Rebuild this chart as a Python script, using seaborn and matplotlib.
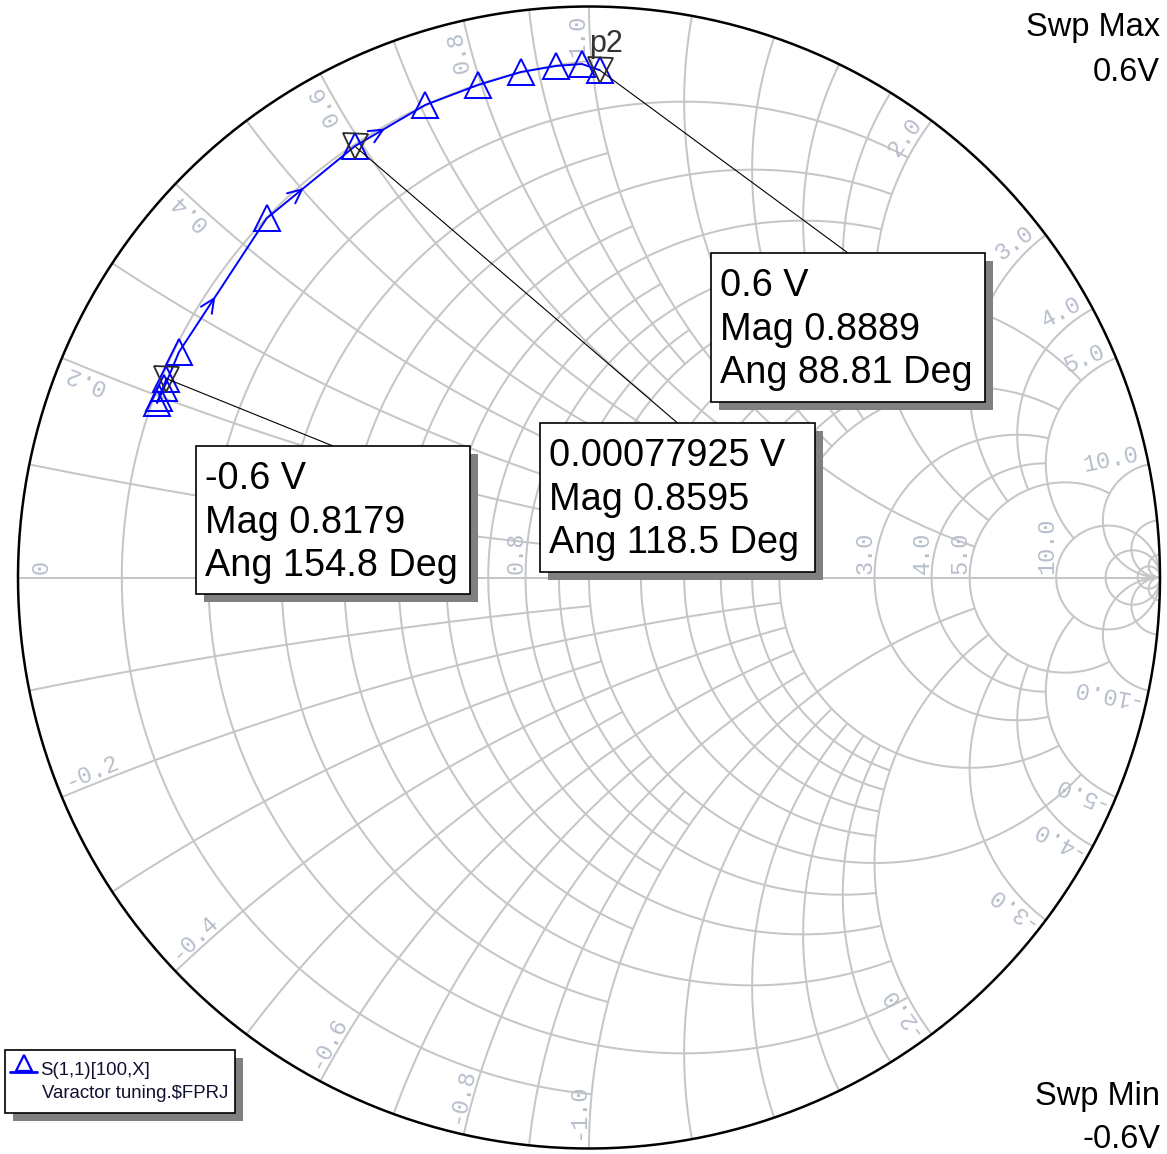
import numpy as np
import pandas as pd
import matplotlib
matplotlib.use("Agg")
import matplotlib.pyplot as plt
from matplotlib.patches import Rectangle
import seaborn as sns

# ---------------------------------------------------------------- data
# S(1,1) of the varactor versus bias voltage (magnitude / angle in degrees)
sweep_v = [-0.6, -0.5, -0.4, -0.3, -0.2, -0.1, 0.0, 0.1, 0.2, 0.3, 0.4, 0.5, 0.6]
s11_mag = [0.8179, 0.8161, 0.8160, 0.8150, 0.8195, 0.8452, 0.8595,
           0.8759, 0.8842, 0.8933, 0.8977, 0.8994, 0.8889]
s11_ang = [154.8, 157.3, 158.0, 156.0, 151.2, 131.9, 118.5,
           109.1, 102.7, 97.7, 93.7, 90.8, 88.81]

# marker read-outs
marker_v = [-0.6, 0.00077925, 0.6]
marker_mag = [0.8179, 0.8595, 0.8889]
marker_ang = [154.8, 118.5, 88.81]
marker_name = "p2"

legend_lines = ["S(1,1)[100,X]", "Varactor tuning.$FPRJ"]
sweep_max = "0.6V"
sweep_min = "-0.6V"

# Smith grid: (value, extent) -> resistance circles limited in |x|,
# reactance arcs limited in r
INF = np.inf
grid_r = [(0.1, 1), (0.2, 2), (0.3, 1), (0.4, 2), (0.5, 1), (0.6, 2), (0.7, 1),
          (0.8, 2), (0.9, 1), (1.0, 5), (1.2, 2), (1.4, 2), (1.6, 2), (1.8, 2),
          (2.0, 5), (3.0, 5), (4.0, 5), (5.0, 10), (10.0, INF), (20.0, INF),
          (50.0, INF)]
grid_x = [(0.1, 1), (0.2, 2), (0.3, 1), (0.4, 2), (0.5, 1), (0.6, 2), (0.7, 1),
          (0.8, 2), (0.9, 1), (1.0, 5), (1.2, 2), (1.4, 2), (1.6, 2), (1.8, 2),
          (2.0, 5), (3.0, 5), (4.0, 5), (5.0, 10), (10.0, INF), (20.0, INF),
          (50.0, INF)]
# resistance labels left uncovered by the read-out boxes
label_r = [0, 0.8, 3.0, 4.0, 5.0, 10.0]
label_x = [0.2, 0.4, 0.6, 0.8, 1.0, 2.0, 3.0, 4.0, 5.0, 10.0]

# ---------------------------------------------------------------- layout
W, H = 1167, 1154
CX, CY, RAD = 589.0, 577.5, 571.0


def P(px, py):
    """pixel position -> reflection-plane coordinates"""
    return (px - CX) / RAD, (CY - py) / RAD


sns.set_theme(style="white")
plt.rcParams["font.family"] = ["Liberation Sans", "DejaVu Sans"]

fig = plt.figure(figsize=(W / 100, H / 100), dpi=100)
ax = fig.add_axes([0, 0, 1, 1])
ax.set_xlim(P(0, 0)[0], P(W, 0)[0])
ax.set_ylim(P(0, H)[1], P(0, 0)[1])
ax.axis("off")

GRID_C = "#c6c6c6"
GRID_LW = 1.45
LABEL_C = "#b7bfcd"


def gamma(z):
    return (z - 1) / (z + 1)


# resistance circles
for r, xm in grid_r:
    if np.isinf(xm):
        phi = np.linspace(0, 2 * np.pi, 600)
        g = r / (1 + r) + np.exp(1j * phi) / (1 + r)
    else:
        t = np.tan(np.linspace(-np.arctan(xm), np.arctan(xm), 600))
        g = gamma(r + 1j * t)
    ax.plot(g.real, g.imag, color=GRID_C, lw=GRID_LW, zorder=1,
            solid_capstyle="butt")

# reactance arcs (both signs)
for x, rm in grid_x:
    top = np.pi / 2 * 0.99999 if np.isinf(rm) else np.arctan(rm)
    s = np.tan(np.linspace(0, top, 600))
    for sgn in (1, -1):
        g = gamma(s + 1j * sgn * x)
        ax.plot(g.real, g.imag, color=GRID_C, lw=GRID_LW, zorder=1,
                solid_capstyle="butt")

# real axis and outer circle
ax.plot([-1, 1], [0, 0], color=GRID_C, lw=GRID_LW, zorder=1)
phi = np.linspace(0, 2 * np.pi, 800)
ax.plot(np.cos(phi), np.sin(phi), color="black", lw=1.8, zorder=2)

# grid labels
lab_font = dict(family="Liberation Mono", size=17, color=LABEL_C,
                rotation_mode="anchor", zorder=2)
for r in label_r:
    gx = (r - 1) / (r + 1)
    if r == 0:
        ax.text(gx + 12 / RAD, 4 / RAD, "0", rotation=90, ha="left",
                va="top", **lab_font)
    else:
        ax.text(gx - 3 / RAD, 4 / RAD, f"{r:.1f}", rotation=90, ha="left",
                va="baseline", **lab_font)
for x in label_x:
    th = np.pi - 2 * np.arctan(x)
    a = 0.985
    ax.text(a * np.cos(th), a * np.sin(th), f"{x:.1f}",
            rotation=np.degrees(th), ha="right", va="bottom", **lab_font)
    ax.text(a * np.cos(-th), a * np.sin(-th), f"-{x:.1f}",
            rotation=180 - np.degrees(th), ha="left", va="bottom", **lab_font)

# ---------------------------------------------------------------- trace
ang = np.radians(s11_ang)
df = pd.DataFrame({"v": sweep_v,
                   "re": np.array(s11_mag) * np.cos(ang),
                   "im": np.array(s11_mag) * np.sin(ang)})
TRACE_C = "#0000ff"
sns.lineplot(data=df, x="re", y="im", sort=False, estimator=None, ax=ax,
             color=TRACE_C, lw=1.4, marker="^", markersize=18.5,
             markerfacecolor="none", markeredgecolor=TRACE_C,
             markeredgewidth=1.4, zorder=4)

# direction chevrons on long segments
L, Wc = 14 / RAD, 6.5 / RAD
for i in range(len(df) - 1):
    p0 = df.loc[i, ["re", "im"]].to_numpy(float)
    p1 = df.loc[i + 1, ["re", "im"]].to_numpy(float)
    d = p1 - p0
    ln = np.hypot(*d)
    if ln < 0.12:
        continue
    d = d / ln
    n = np.array([-d[1], d[0]])
    m = p0 + 0.4 * (p1 - p0)
    pts = np.array([m - L * d + Wc * n, m, m - L * d - Wc * n])
    ax.plot(pts[:, 0], pts[:, 1], color=TRACE_C, lw=1.4, zorder=4)

# markers
mang = np.radians(marker_ang)
mre = np.array(marker_mag) * np.cos(mang)
mim = np.array(marker_mag) * np.sin(mang)
ax.plot(mre, mim, ls="none", marker="v", markersize=18, markerfacecolor="none",
        markeredgecolor="#2b2b2b", markeredgewidth=1.3, zorder=5)
ax.text(*P(606, 44), marker_name, ha="center", va="center",
        fontsize=22, color="#333333", zorder=6)

# ---------------------------------------------------------------- read-out boxes
boxes = [(196, 446, 470, 594), (540, 423, 815, 572), (711, 253, 985, 402)]
SH = 8
for (l, t, r, b), v, mg, an, gx, gy in zip(boxes, marker_v, marker_mag,
                                            marker_ang, mre, mim):
    ax.plot([P((l + r) / 2, t)[0], gx], [P((l + r) / 2, t)[1], gy],
            color="black", lw=0.8, zorder=5)
    ax.add_patch(Rectangle(P(l + SH, b + SH), (r - l) / RAD, (b - t) / RAD,
                           facecolor="#808080", edgecolor="none", zorder=6))
    ax.add_patch(Rectangle(P(l, b), (r - l) / RAD, (b - t) / RAD,
                           facecolor="white", edgecolor="black", lw=1.2,
                           zorder=7))
    lines = [f"{v:g} V", f"Mag {mg:g}", f"Ang {an:g} Deg"]
    for k, s in enumerate(lines):
        ax.text(*P(l + 9, t + 43 + 43.5 * k), s, ha="left", va="baseline",
                fontsize=27.3, color="black", zorder=8)

# ---------------------------------------------------------------- sweep info
ax.text(*P(1160, 36), "Swp Max", ha="right", va="baseline", fontsize=23.5,
        color="black")
ax.text(*P(1160, 81), sweep_max, ha="right", va="baseline", fontsize=23.5,
        color="black")
ax.text(*P(1160, 1105), "Swp Min", ha="right", va="baseline", fontsize=23.5,
        color="black")
ax.text(*P(1160, 1148), sweep_min, ha="right", va="baseline", fontsize=23.5,
        color="black")

# ---------------------------------------------------------------- legend
ll, lt, lr, lb = 5, 1050, 235, 1113
ax.add_patch(Rectangle(P(ll + SH, lb + SH), (lr - ll) / RAD, (lb - lt) / RAD,
                       facecolor="#808080", edgecolor="none", zorder=6))
ax.add_patch(Rectangle(P(ll, lb), (lr - ll) / RAD, (lb - lt) / RAD,
                       facecolor="white", edgecolor="black", lw=1.2, zorder=7))
ax.plot([P(10, 0)[0], P(37, 0)[0]], [P(0, 1072)[1]] * 2, color=TRACE_C,
        lw=2.0, zorder=8)
ax.plot(*P(23.5, 1063), marker="^", markersize=12, markerfacecolor="none",
        markeredgecolor=TRACE_C, markeredgewidth=1.6, zorder=8)
ax.text(*P(40, 1075), legend_lines[0], ha="left", va="baseline",
        fontsize=13.4, color="#101030", zorder=8)
ax.text(*P(42, 1098), legend_lines[1], ha="left", va="baseline",
        fontsize=13.4, color="#101030", zorder=8)

fig.savefig("out.png", dpi=100)
